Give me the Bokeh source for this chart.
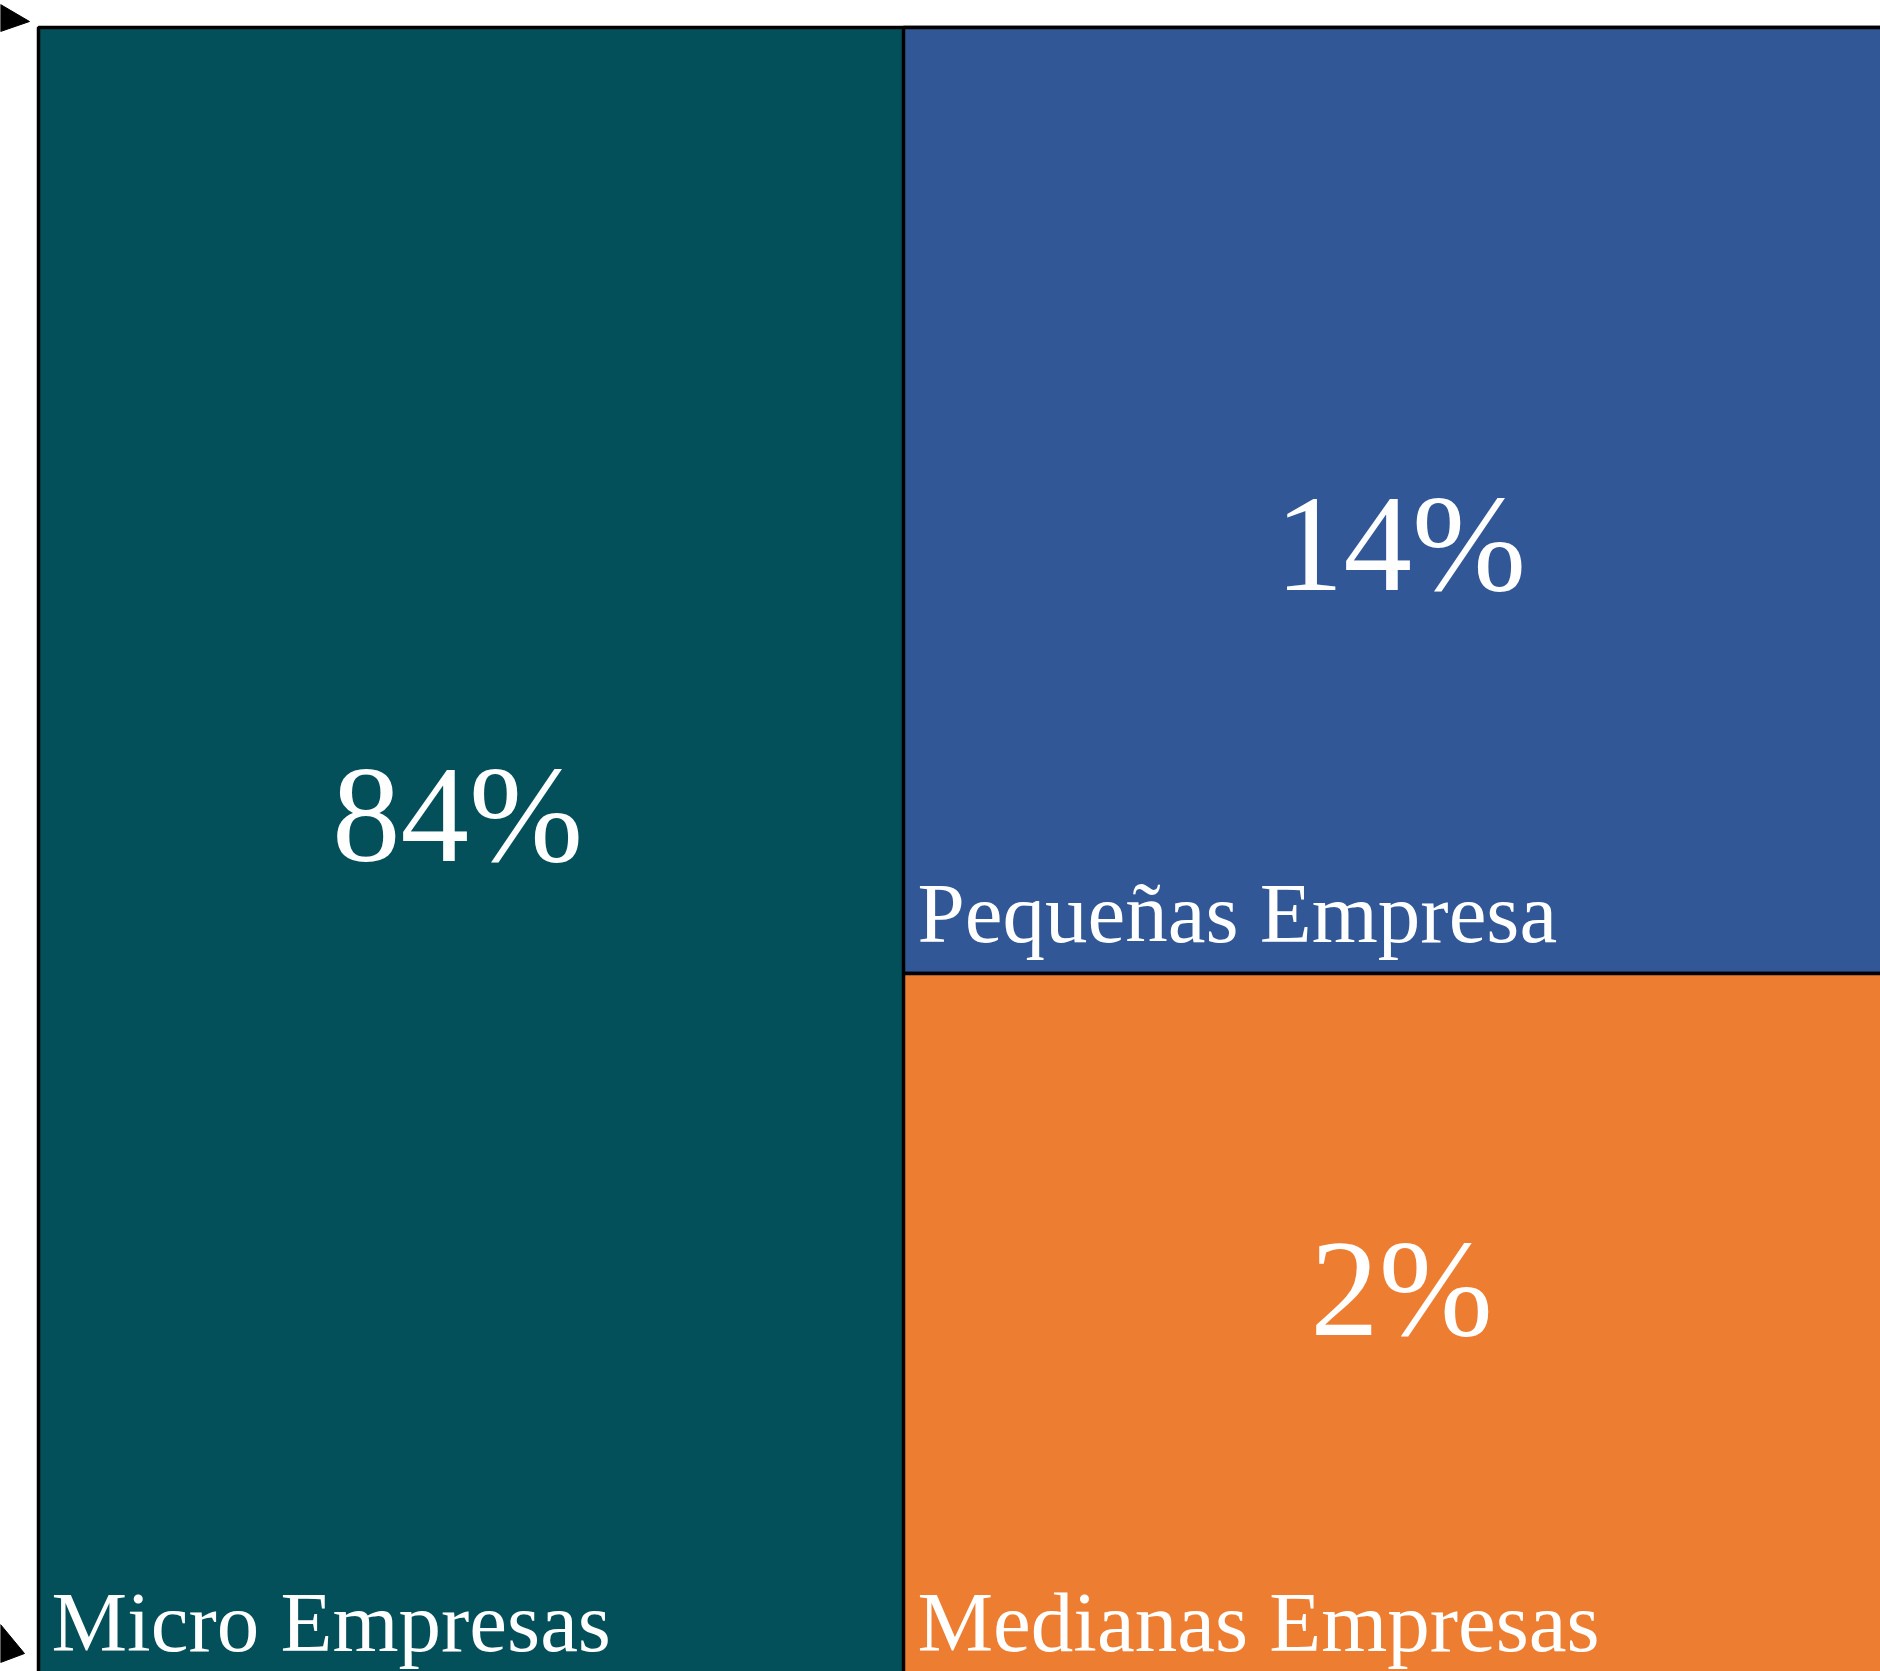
from bokeh.plotting import figure
from bokeh.models import Range1d, ColumnDataSource
from bokeh.core.properties import value
from bokeh.embed import file_html
from bokeh.resources import INLINE

# ---- data ----
categories = ["Micro Empresas", "Pequeñas Empresa", "Medianas Empresas"]
shares = [84, 14, 2]
colors = ["#03505B", "#315796", "#ED7D31"]

# ---- layout (reference pixel units, y downwards) ----
W, H = 1880, 1671
VAL_SIZE, LAB_SIZE = 137, 85
BASE_SHIFT = 0.36  # bokeh's alphabetic baseline sits this many em lower
rect_left = [38, 903, 903]
rect_right = [1900, 1900, 1900]
rect_top = [27, 27, 973]
rect_bottom = [1720, 973, 1720]
val_x = [457, 1400, 1401]
val_y = [864, 593, 1338]
lab_x = [51, 917, 917]
lab_y = [1652, 943, 1652]

p = figure(width=W, height=H, output_backend="svg", toolbar_location=None,
           x_range=Range1d(0, W), y_range=Range1d(H, 0),
           min_border=0, min_border_left=0, min_border_right=0,
           min_border_top=0, min_border_bottom=0)
p.axis.visible = False
p.grid.visible = False
p.outline_line_color = None
p.background_fill_color = "white"
p.border_fill_color = "white"

src = ColumnDataSource(dict(
    left=rect_left, right=rect_right, top=rect_top, bottom=rect_bottom,
    color=colors, cat=categories,
    pct=[f"{v}%" for v in shares],
    vx=val_x, vy=[y - BASE_SHIFT * VAL_SIZE for y in val_y],
    lx=lab_x, ly=[y - BASE_SHIFT * LAB_SIZE for y in lab_y],
))

p.quad(left="left", right="right", top="top", bottom="bottom", source=src,
       fill_color="color", line_color="black", line_width=3.5)

p.text(x="vx", y="vy", text="pct", source=src, text_color="white",
       text_font=value("Liberation Serif"), text_font_size=f"{VAL_SIZE}px",
       text_align="center", text_baseline="alphabetic")

p.text(x="lx", y="ly", text="cat", source=src, text_color="white",
       text_font=value("Liberation Serif"), text_font_size=f"{LAB_SIZE}px",
       text_align="left", text_baseline="alphabetic")

# arrow heads on the left edge
p.patch(x=[0, 29, 0], y=[4, 21, 31], fill_color="black", line_color="black")
p.patch(x=[0, 24, 0], y=[1624, 1653, 1662], fill_color="black", line_color="black")

open("out.html", "w").write(file_html(p, INLINE))
